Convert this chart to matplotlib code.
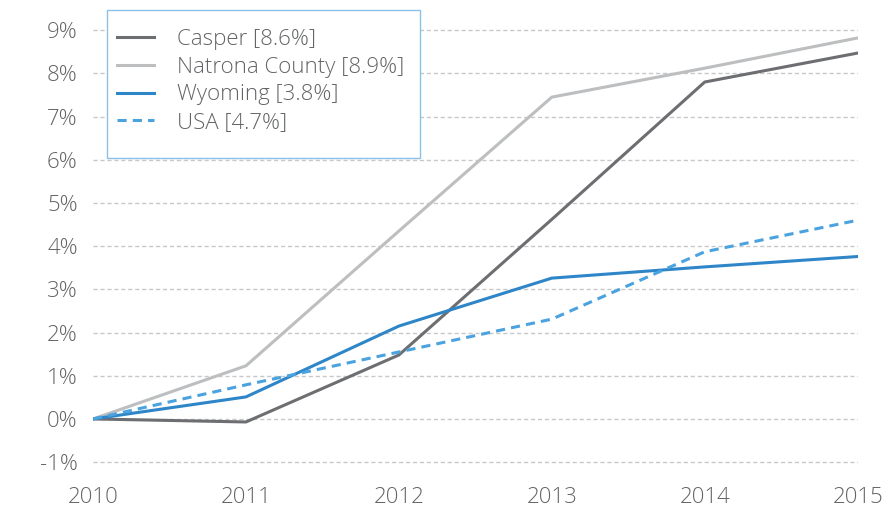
import matplotlib.pyplot as plt
from matplotlib.patches import Rectangle

# Data (cumulative growth since 2010, %)
years = [2010, 2011, 2012, 2013, 2014, 2015]
casper = [0.0, -0.07, 1.48, 4.62, 7.8, 8.47]
natrona = [0.0, 1.23, 4.35, 7.45, 8.12, 8.82]
wyoming = [0.0, 0.51, 2.15, 3.26, 3.52, 3.76]
usa = [0.0, 0.79, 1.55, 2.31, 3.87, 4.6]
labels = ['Casper [8.6%]', 'Natrona County [8.9%]', 'Wyoming [3.8%]', 'USA [4.7%]']
yticks = list(range(-1, 10))

plt.rcParams['font.family'] = ['Open Sans', 'DejaVu Sans']
plt.rcParams['font.weight'] = 'light'
txt = '#636466'

fig = plt.figure(figsize=(8.86, 5.17), dpi=100)
ax = fig.add_axes([0.105, 0.0894, 0.863, 0.8773])

ax.plot(years, casper, color='#6d6e71', lw=2.2, label=labels[0])
ax.plot(years, natrona, color='#bcbec0', lw=2.2, label=labels[1])
ax.plot(years, wyoming, color='#2e86c8', lw=2.2, label=labels[2])
ax.plot(years, usa, color='#4aa3df', lw=2.2, ls=(0, (3, 2)), label=labels[3])

ax.set_xlim(2010, 2015)
ax.set_ylim(-1.2, 9.3)
ax.set_yticks(yticks)
ax.set_yticklabels([f'{v}%' for v in yticks])
ax.set_xticks(years)
ax.grid(axis='y', color='#c8c8c8', ls=(0, (3, 2)), lw=1)
ax.set_axisbelow(True)
for s in ax.spines.values():
    s.set_visible(False)
ax.tick_params(length=0, labelsize=16, colors=txt, pad=11)
ax.tick_params(axis='x', pad=12)

# legend box
ax.add_patch(Rectangle((107 / 886, 1 - 158 / 517), 313 / 886, 148 / 517,
                       transform=fig.transFigure, facecolor='white',
                       edgecolor='#8cc0e6', lw=1, zorder=4, clip_on=False))
leg = ax.legend(loc='upper left', bbox_to_anchor=(117 / 886, 1 - 29 / 517),
                bbox_transform=fig.transFigure, fontsize=16, frameon=False,
                handlelength=1.65, handletextpad=1.05, labelspacing=0.3,
                borderpad=0, borderaxespad=0)
leg.set_zorder(6)
for t in leg.get_texts():
    t.set_color(txt)

fig.savefig('out.png', dpi=100)
